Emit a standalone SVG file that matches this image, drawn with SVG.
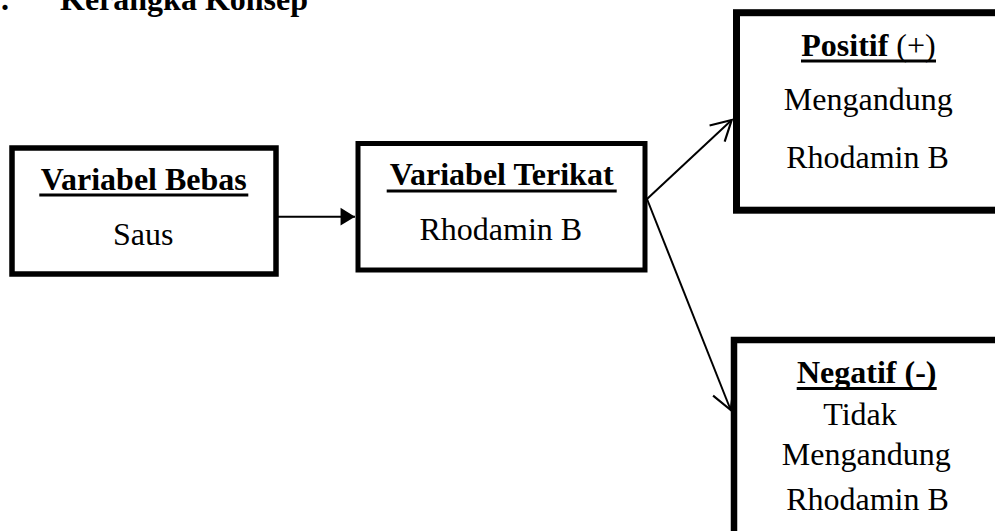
<svg xmlns="http://www.w3.org/2000/svg" width="995" height="531" viewBox="0 0 995 531">
  <style>
    .t { font-family: "Liberation Serif", "Times New Roman", serif; font-size: 32px; fill: #000; }
    .b { font-weight: bold; }
    .c { text-anchor: middle; }
    .box { fill: #fff; stroke: #000; }
    .ul { stroke: #000; stroke-width: 3; }
    .conn { fill: none; stroke: #000; stroke-width: 2; }
  </style>
  <defs>
    <marker id="filled" markerUnits="userSpaceOnUse" markerWidth="20" markerHeight="20" viewBox="-14 -9 15 18" refX="0" refY="0" orient="auto">
      <path d="M-13,-8 L0,0 L-13,8 Z" fill="#000"/>
    </marker>
    <marker id="open" markerUnits="userSpaceOnUse" markerWidth="24" markerHeight="26" viewBox="-20 -12 22 24" refX="0" refY="0" orient="auto">
      <path d="M-18.4,-10.2 L0,0 L-18.4,10.2" fill="none" stroke="#000" stroke-width="2"/>
    </marker>
  </defs>

  <text class="t b" x="1" y="10">.</text>
  <text class="t b" x="60" y="10">Kerangka Konsep</text>

  <g id="connectors">
    <line class="conn" x1="278" y1="216.7" x2="355" y2="216.7" stroke-width="2.5" marker-end="url(#filled)"/>
    <line class="conn" x1="647" y1="199" x2="731.7" y2="120" marker-end="url(#open)"/>
    <line class="conn" x1="647" y1="199" x2="730.7" y2="410" marker-end="url(#open)"/>
  </g>

  <g id="variabel-bebas">
    <rect class="box" x="12" y="148" width="264" height="126" stroke-width="5.5"/>
    <text class="t b c" x="143.8" y="190">Variabel Bebas</text>
    <line class="ul" x1="39.3" y1="195" x2="248.3" y2="195"/>
    <text class="t c" x="143.3" y="245">Saus</text>
  </g>

  <g id="variabel-terikat">
    <rect class="box" x="358" y="143.5" width="287" height="126.5" stroke-width="5"/>
    <text class="t b c" x="501.7" y="185">Variabel Terikat</text>
    <line class="ul" x1="386.7" y1="191" x2="616.7" y2="191"/>
    <text class="t c" x="500.8" y="240">Rhodamin B</text>
  </g>

  <g id="positif">
    <rect class="box" x="736.5" y="12.7" width="300" height="197.5" stroke-width="7"/>
    <text class="t c" x="868.5" y="56"><tspan class="b">Positif</tspan> (+)</text>
    <line class="ul" x1="801" y1="61" x2="936" y2="61"/>
    <text class="t c" x="868.3" y="110">Mengandung</text>
    <text class="t c" x="867.5" y="168">Rhodamin B</text>
  </g>

  <g id="negatif">
    <rect class="box" x="734" y="340" width="300" height="300" stroke-width="6.5"/>
    <text class="t b c" x="866.7" y="383">Negatif (-)</text>
    <line class="ul" x1="796.7" y1="388.5" x2="936.7" y2="388.5"/>
    <text class="t c" x="860" y="425">Tidak</text>
    <text class="t c" x="866.3" y="465">Mengandung</text>
    <text class="t c" x="867.5" y="509.5">Rhodamin B</text>
  </g>
</svg>
